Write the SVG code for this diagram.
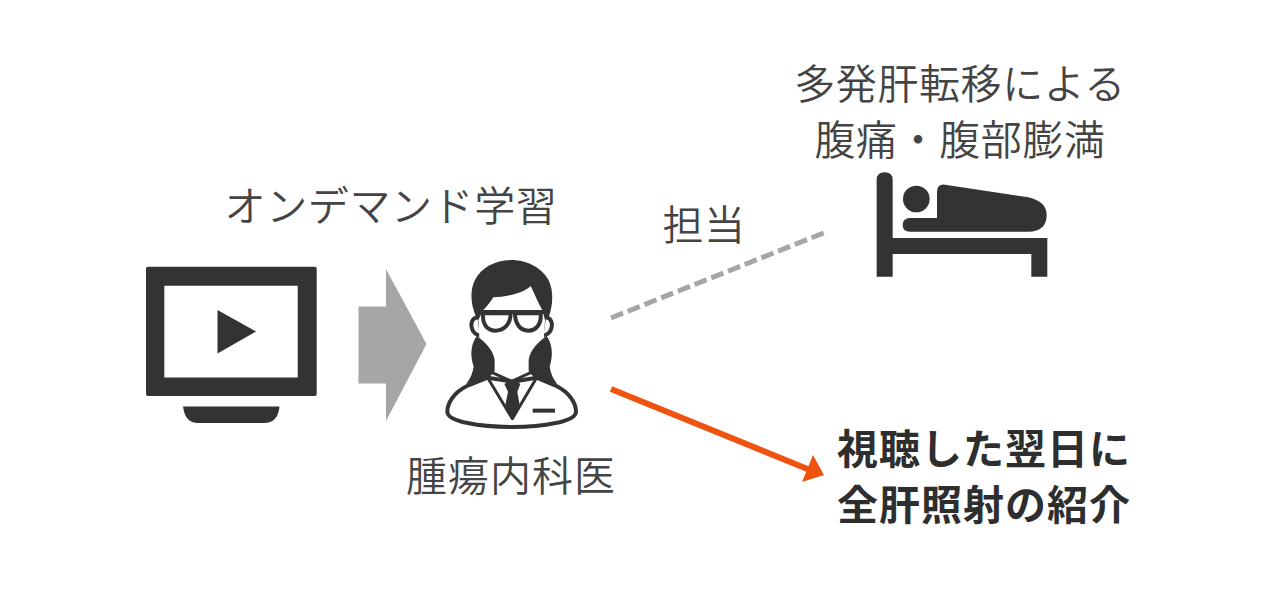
<svg xmlns="http://www.w3.org/2000/svg" width="1280" height="600" viewBox="0 0 1280 600">
<style>
text{font-family:"Noto Sans CJK JP",sans-serif;font-size:41px;fill:#444;letter-spacing:.6px;font-weight:350}
.b{font-weight:700;fill:#2e2e2e;letter-spacing:1px}
.d{fill:#333}
.o{fill:#fff;stroke:#333;stroke-width:12;stroke-linejoin:round}
</style>
<rect width="1280" height="600" fill="#fff"/>
<g id="tv">
<path class="d" fill-rule="evenodd" d="M148 266.700H315Q316.700 266.700 316.700 268.500V394Q316.700 396 315 396H148Q146 396 146 394V268.500Q146 266.700 148 266.700ZM164.300 285.700V377.500H297.700V285.700Z"/>
<path class="d" d="M217.500 310L256 331.500L217.500 353.500Z"/>
<path class="d" d="M183 406.500H279.500Q278 423 264 423H198Q185 423 183 406.500Z"/>
</g>
<g id="arrow-gray"><path fill="#a6a6a6" d="M358.500 306.500H386V269L426.500 344L386 421V383.500H358.500Z"/></g>
<g id="doctor" transform="translate(420 240) scale(.3333)">
<path class="d" d="M170 235C150 190 150 150 165 120C185 80 230 60 275 60C320 60 370 85 388 125C402 160 398 200 385 235Z"/>
<path class="o" d="M178 232C160 230 152 245 155 262C158 278 170 288 185 285Z"/>
<path class="o" d="M372 232C390 230 398 245 395 262C392 278 380 288 365 285Z"/>
<path fill="#fff" d="M190 210C205 195 215 180 220 172C260 170 310 160 332 138C345 165 355 190 367 210L375 240L372 292L345 340L330 400L275 425L220 400L205 340L178 292L175 240Z"/>
<path class="d" d="M170 288C148 320 153 355 161 380C158 400 150 418 138 432L205 412C215 405 224 398 224 390V360C220 330 195 305 170 288Z"/>
<path class="d" d="M380 288C402 320 397 355 389 380C392 400 400 418 412 432L345 412C335 405 326 398 326 390V360C330 330 355 305 380 288Z"/>
<path class="o" stroke-width="14" d="M203 413L145 436C100 458 82 490 82 515C82 545 180 561 275 561C370 561 468 545 468 515C468 490 450 458 405 436L350 413L278 425Z"/>
<path d="M203 413L277 536L350 413M217 398L275 424L332 398" fill="none" stroke="#333" stroke-width="9" stroke-linejoin="round"/>
<path class="d" d="M253 432L265 424H290L301 432L292 455L300 500L277 530L255 500L264 455Z"/>
<rect class="d" x="338" y="506" width="67" height="12"/>
<path d="M172 216H385" stroke="#333" stroke-width="12" fill="none"/>
<path class="o" stroke-width="11" d="M190 220H272C272 255 250 272 225 272C200 272 185 250 190 220Z"/>
<path class="o" stroke-width="11" d="M285 220H362C365 250 350 272 325 272C300 272 285 250 285 220Z"/>
</g>
<g id="patient" transform="translate(860 160) scale(.3333)">
<path class="d" d="M50 60Q50 37 74 37Q98 37 98 60V234H562V350H514V282H98V350H50Z"/>
<circle class="d" cx="169" cy="117" r="40"/>
<path class="d" d="M231 95Q231 72 255 74L505 112Q560 125 560 165Q560 215 505 215H150Q128 215 128 195Q128 175 150 174H231Z"/>
</g>
<g id="connectors">
<line x1="611" y1="318" x2="826" y2="232" stroke="#a6a6a6" stroke-width="5" stroke-dasharray="13 5"/>
<line x1="611" y1="389" x2="810" y2="470" stroke="#f0530f" stroke-width="6"/>
<path fill="#f0530f" d="M824 475L802 482L813 455Z"/>
</g>
<g id="labels">
<text x="960" y="99" text-anchor="middle">多発肝転移による</text>
<text x="960" y="155" text-anchor="middle">腹痛・腹部膨満</text>
<text x="391" y="221" text-anchor="middle">オンデマンド学習</text>
<text x="704" y="240" text-anchor="middle">担当</text>
<text x="511" y="491" style="letter-spacing:1px" text-anchor="middle">腫瘍内科医</text>
<text class="b" x="984" y="464" text-anchor="middle">視聴した翌日に</text>
<text class="b" x="984" y="520" text-anchor="middle">全肝照射の紹介</text>
</g>
</svg>
